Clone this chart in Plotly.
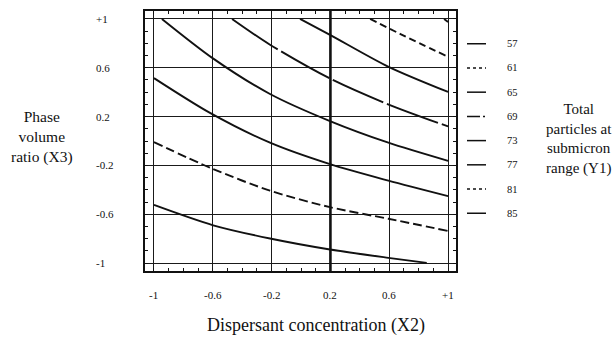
import plotly.graph_objects as go

# ---- data ----
levels = [57, 61, 65, 69, 73, 77, 81, 85]

x57 = [0.973, 1.0]
y57 = [1.0, 0.975]
x61 = [0.47, 0.673, 1.0]
y61 = [1.0, 0.878, 0.69]
x65 = [-0.007, 0.197, 0.592, 1.0]
y65 = [1.0, 0.870, 0.610, 0.402]
x69 = [-0.469, -0.211, 0.197, 0.592, 1.0]
y69 = [1.0, 0.789, 0.512, 0.301, 0.119]
x73 = [-0.946, -0.599, -0.211, 0.197, 0.594, 1.0]
y73 = [1.0, 0.677, 0.385, 0.163, -0.014, -0.163]
x77 = [-1.0, -0.619, -0.211, 0.197, 0.594, 1.0]
y77 = [0.515, 0.230, -0.014, -0.190, -0.325, -0.452]
x81 = [-1.0, -0.597, -0.211, 0.197, 0.594, 1.0]
y81 = [-0.010, -0.230, -0.407, -0.542, -0.637, -0.737]
x85 = [-1.0, -0.597, -0.211, 0.197, 0.594, 0.855]
y85 = [-0.524, -0.691, -0.799, -0.889, -0.957, -0.998]

contour_x = [x57, x61, x65, x69, x73, x77, x81, x85]
contour_y = [y57, y61, y65, y69, y73, y77, y81, y85]

x_ticks = [-1, -0.6, -0.2, 0.2, 0.6, 1]
x_tick_text = ["-1", "-0.6", "-0.2", "0.2", "0.6", "+1"]
y_ticks = [-1, -0.6, -0.2, 0.2, 0.6, 1]
y_tick_text = ["-1", "-0.6", "-0.2", "0.2", "0.6", "+1"]

x_title = "Dispersant concentration (X2)"
y_title = "Phase<br>volume<br>ratio (X3)"
legend_title = "Total<br>particles at<br>submicron<br>range (Y1)"

# ---- styles ----
line_dash = ["solid", "7px,4px", "solid", "55px,4px", "solid", "solid", "9px,4px", "solid"]
legend_dash = ["solid", "3px,3px", "solid", "13px,3px,2px,3px", "solid", "solid", "3px,3px", "solid"]
FONT = "Liberation Serif"
INK = "#111111"

# plot area in pixels: x 145..456, y 9..271
L, R, T, B = 145, 456, 9, 271
W, H = 616, 344
def px(x):
    return (x - L) / (R - L)
def py(y):
    return (B - y) / (B - T)

fig = go.Figure()
for lv, xs, ys, d in zip(levels, contour_x, contour_y, line_dash):
    fig.add_trace(go.Scatter(
        x=xs, y=ys, mode="lines", name=str(lv),
        line=dict(color=INK, width=1.9, dash=d, shape="spline", smoothing=0.8),
        showlegend=False, hoverinfo="skip"))

axis_common = dict(
    showline=True, linecolor=INK, linewidth=1.6, mirror="ticks",
    showgrid=True, gridcolor="#1a1a1a", gridwidth=1.3,
    zeroline=False, tickmode="array", showticklabels=False,
    ticks="inside", ticklen=3, tickcolor=INK, tickwidth=1,
    minor=dict(dtick=0.1, tick0=-1, ticks="inside", ticklen=3,
               tickcolor=INK, tickwidth=1, showgrid=False),
)
fig.update_xaxes(range=[-1.061, 1.054], tickvals=x_ticks, **axis_common)
fig.update_yaxes(range=[-1.065, 1.065], tickvals=y_ticks, **axis_common)

# thicker vertical line at x = 0.2
fig.add_shape(type="line", xref="x", yref="paper", x0=0.2, x1=0.2, y0=0, y1=1,
              line=dict(color=INK, width=2.6))

ann = []
for v, t in zip(x_ticks, x_tick_text):
    ann.append(dict(x=v, xref="x", y=py(295), yref="paper", text=t, showarrow=False,
                    xanchor="center", yanchor="middle", font=dict(family=FONT, size=11, color=INK)))
for v, t in zip(y_ticks, y_tick_text):
    ann.append(dict(x=px(94), xref="paper", y=v, yref="y", text=t, showarrow=False,
                    xanchor="left", yanchor="middle", font=dict(family=FONT, size=11, color=INK)))

# legend drawn in the right margin
for i, (lv, d) in enumerate(zip(levels, legend_dash)):
    yy = py(42 + i * 24.4)
    fig.add_shape(type="line", xref="paper", yref="paper", x0=px(467), x1=px(486),
                  y0=yy, y1=yy, line=dict(color=INK, width=1.5, dash=d))
    ann.append(dict(x=px(505), xref="paper", y=yy, yref="paper", text=str(lv), showarrow=False,
                    xanchor="left", yanchor="middle", font=dict(family=FONT, size=10.5, color=INK)))

ann.append(dict(x=px(579), xref="paper", y=py(138), yref="paper", text=legend_title,
                showarrow=False, xanchor="center", yanchor="middle", align="center",
                font=dict(family=FONT, size=15, color=INK)))
ann.append(dict(x=px(42), xref="paper", y=py(136), yref="paper", text=y_title,
                showarrow=False, xanchor="center", yanchor="middle", align="center",
                font=dict(family=FONT, size=15.5, color=INK)))
ann.append(dict(x=px(316), xref="paper", y=py(326), yref="paper", text=x_title,
                showarrow=False, xanchor="center", yanchor="middle",
                font=dict(family=FONT, size=18, color=INK)))

fig.update_layout(
    width=W, height=H,
    margin=dict(l=L, r=W - R, t=T, b=H - B, pad=0),
    plot_bgcolor="white", paper_bgcolor="white",
    annotations=ann, showlegend=False,
)

fig.write_html("out.html", config={"displayModeBar": False},
               post_script="document.body.style.margin='0';document.body.style.overflow='hidden';")
